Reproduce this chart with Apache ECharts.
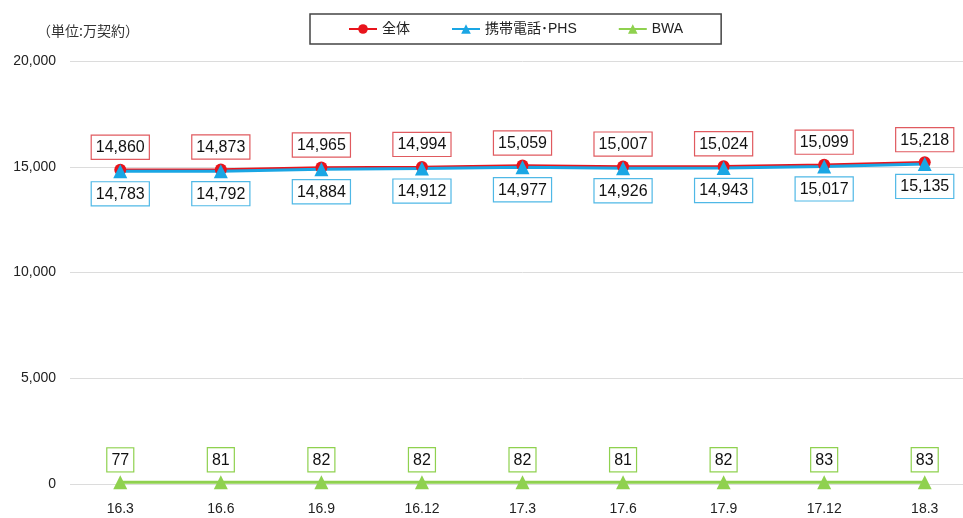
<!DOCTYPE html>
<html>
<head>
<meta charset="utf-8">
<script src="https://cdn.jsdelivr.net/npm/echarts@6/dist/echarts.min.js"></script>
<style>
  html, body { margin: 0; padding: 0; background: #fff; overflow: hidden; }
  /* the reference's plot area runs past the right edge, so the canvas is a bit wider than the window */
  #chart { width: 975px; height: 518px; }
</style>
</head>
<body>
<div id="chart"></div>
<script>
const categories = ['16.3', '16.6', '16.9', '16.12', '17.3', '17.6', '17.9', '17.12', '18.3']
const totalValues = [14860, 14873, 14965, 14994, 15059, 15007, 15024, 15099, 15218]
const mobileValues = [14783, 14792, 14884, 14912, 14977, 14926, 14943, 15017, 15135]
const bwaValues = [77, 81, 82, 82, 82, 81, 82, 83, 83]

const fontFamily = '"Liberation Sans", Arial, "Noto Sans CJK JP", sans-serif'

const withComma = (value) => String(value).replace(/\B(?=(\d{3})+(?!\d))/g, ',')

const boxLabel = (position, borderColor, distance) => ({
  show: true,
  position,
  distance,
  formatter: (params) => withComma(params.value),
  color: '#111',
  fontSize: 16,
  fontFamily,
  backgroundColor: '#fff',
  borderColor,
  borderWidth: 1.2,
  padding: [4, 4, 3, 4]
})

const chart = echarts.init(document.getElementById('chart'))

chart.setOption({
  animation: false,
  textStyle: { fontFamily },
  graphic: [
    {
      type: 'text',
      left: 37,
      top: 24,
      style: {
        text: '（単位:万契約）',
        fill: '#333',
        font: '14px "Noto Sans CJK JP", sans-serif'
      }
    }
  ],
  legend: {
    left: 310,
    top: 14,
    padding: [8, 38, 8, 38],
    itemGap: 41,
    itemWidth: 28,
    itemHeight: 12,
    borderColor: '#444',
    borderWidth: 1.5,
    textStyle: {
      fontSize: 14,
      color: '#222',
      fontFamily: '"Liberation Sans", "Noto Sans CJK JP", sans-serif'
    },
    data: ['全体', '携帯電話･PHS', 'BWA']
  },
  grid: {
    left: 70,
    right: 0,
    top: 61,
    bottom: 34
  },
  xAxis: {
    type: 'category',
    data: categories,
    axisLine: { show: false },
    axisTick: { show: false },
    axisLabel: { color: '#222', fontSize: 14, margin: 18 }
  },
  yAxis: {
    type: 'value',
    min: 0,
    max: 20000,
    interval: 5000,
    axisLine: { show: false },
    axisTick: { show: false },
    axisLabel: {
      color: '#222',
      fontSize: 14,
      margin: 14,
      formatter: (value) => withComma(value)
    },
    splitLine: { lineStyle: { color: '#dcdcdc', width: 1 } }
  },
  series: [
    {
      name: '全体',
      type: 'line',
      data: totalValues,
      symbol: 'circle',
      symbolSize: 12,
      color: '#e8141c',
      lineStyle: { width: 2.5, color: '#e8141c' },
      label: boxLabel('top', '#e05a5f', 5)
    },
    {
      name: '携帯電話･PHS',
      type: 'line',
      data: mobileValues,
      symbol: 'triangle',
      symbolSize: 14,
      color: '#1aa6e4',
      lineStyle: { width: 3, color: '#1aa6e4' },
      label: boxLabel('bottom', '#4fb8e6', 4)
    },
    {
      name: 'BWA',
      type: 'line',
      data: bwaValues,
      symbol: 'triangle',
      symbolSize: 14,
      color: '#8fd14f',
      lineStyle: { width: 3, color: '#8fd14f' },
      label: boxLabel('top', '#8fd14f', 4)
    }
  ]
})
</script>
</body>
</html>
